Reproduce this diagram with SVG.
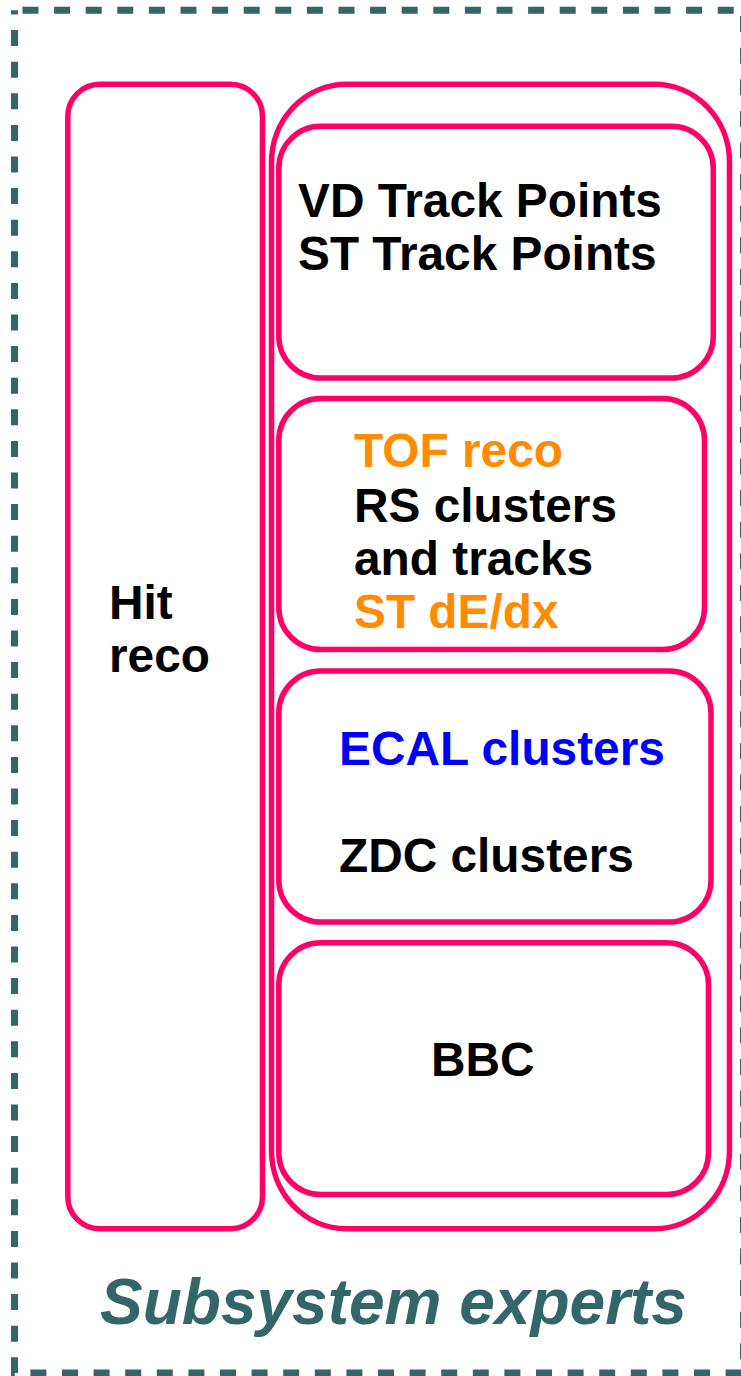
<svg xmlns="http://www.w3.org/2000/svg" width="741" height="1376" viewBox="0 0 741 1376">
<style>
.box{fill:none;stroke:#FF0066;stroke-width:5.5}
.t{font-family:"Liberation Sans",Arial,sans-serif;font-weight:bold;font-size:47.8px;fill:#000}
.o{fill:#FF8C00}
.b{fill:#0000FF}
.title{font-family:"Liberation Sans",Arial,sans-serif;font-weight:bold;font-style:italic;font-size:64px;fill:#336666}
</style>
<rect width="741" height="1376" fill="#fff"/>
<g id="frame">
<rect x="14.5" y="10.3" width="729" height="1362.7" fill="none" stroke="#336666" stroke-width="7" stroke-dasharray="16 15.6" stroke-dashoffset="-8"/>
<text class="title" x="100" y="1324">Subsystem experts</text>
</g>
<g id="hit-reco">
<rect class="box" x="67.8" y="84.3" width="194.7" height="1144.5" rx="32" ry="32"/>
<text class="t" x="109" y="619">Hit</text>
<text class="t" x="109" y="672">reco</text>
</g>
<g id="reco-group">
<rect class="box" x="271.5" y="84.3" width="458" height="1144.5" rx="75" ry="78"/>
</g>
<g id="track-points">
<rect class="box" x="278.8" y="126.3" width="434.5" height="251.7" rx="42" ry="42"/>
<text class="t" x="298" y="217">VD Track Points</text>
<text class="t" x="298" y="270">ST Track Points</text>
</g>
<g id="tof-rs">
<rect class="box" x="278.8" y="398.5" width="425.7" height="251" rx="42" ry="42"/>
<text class="t o" x="354" y="467">TOF reco</text>
<text class="t" x="354" y="522">RS clusters</text>
<text class="t" x="354" y="575">and tracks</text>
<text class="t o" x="354" y="628">ST dE/dx</text>
</g>
<g id="calo">
<rect class="box" x="278.8" y="671" width="432.2" height="251" rx="42" ry="42"/>
<text class="t b" x="339" y="765">ECAL clusters</text>
<text class="t" x="339" y="872">ZDC clusters</text>
</g>
<g id="bbc">
<rect class="box" x="278.8" y="942.8" width="429.7" height="251.7" rx="42" ry="42"/>
<text class="t" x="431" y="1076">BBC</text>
</g>
<g id="connectors"></g>
</svg>
